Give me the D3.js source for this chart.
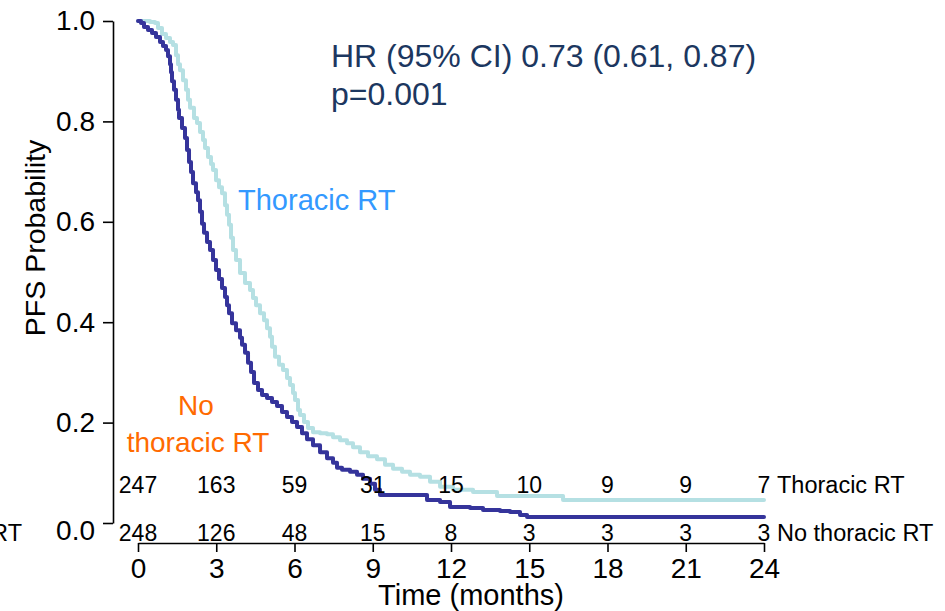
<!DOCTYPE html>
<html>
<head>
<meta charset="utf-8">
<script src="https://cdn.jsdelivr.net/npm/d3@7"></script>
<style>
  html, body { margin: 0; padding: 0; background: #fff; }
  svg { display: block; font-family: "Liberation Sans", Arial, sans-serif; }
</style>
</head>
<body>
<svg id="chart" width="945" height="611"></svg>
<script>
// ---- data ----
const months = [0, 3, 6, 9, 12, 15, 18, 21, 24];
const yTicks = [0, 0.2, 0.4, 0.6, 0.8, 1.0];
const riskThoracic = [247, 163, 59, 31, 15, 10, 9, 9, 7];
const riskNoThoracic = [248, 126, 48, 15, 8, 3, 3, 3, 3];

// No thoracic RT (dark) KM curve
const timeNo = [0, 0.115, 0.23, 0.383, 0.537, 0.69, 0.844, 0.958, 1.074, 1.15, 1.227, 1.265, 1.304, 1.38, 1.457, 1.534, 1.572, 1.687, 1.802, 1.879, 1.956, 2.032, 2.109, 2.224, 2.301, 2.377, 2.454, 2.531, 2.646, 2.761, 2.876, 2.991, 3.106, 3.221, 3.336, 3.413, 3.489, 3.604, 3.758, 3.911, 3.988, 4.103, 4.218, 4.333, 4.448, 4.601, 4.755, 4.946, 5.138, 5.33, 5.521, 5.713, 5.905, 6.097, 6.288, 6.48, 6.71, 6.979, 7.247, 7.477, 7.63, 7.822, 8.129, 8.397, 8.627, 8.896, 9.087, 9.279, 11.081, 11.58, 11.963, 12.73, 13.228, 13.88, 14.264, 14.647, 14.916, 24];
const survNo = [1.0, 0.996, 0.988, 0.982, 0.976, 0.968, 0.958, 0.95, 0.942, 0.93, 0.914, 0.898, 0.88, 0.863, 0.843, 0.823, 0.807, 0.787, 0.767, 0.743, 0.719, 0.699, 0.677, 0.659, 0.643, 0.62, 0.596, 0.578, 0.56, 0.544, 0.524, 0.504, 0.486, 0.468, 0.45, 0.434, 0.418, 0.398, 0.384, 0.369, 0.355, 0.339, 0.319, 0.301, 0.279, 0.265, 0.255, 0.249, 0.241, 0.233, 0.221, 0.211, 0.201, 0.191, 0.179, 0.167, 0.155, 0.141, 0.129, 0.12, 0.11, 0.106, 0.102, 0.096, 0.088, 0.078, 0.066, 0.056, 0.046, 0.042, 0.032, 0.03, 0.026, 0.024, 0.022, 0.016, 0.012, 0.012];

// Thoracic RT (light) KM curve
const timeRT = [0, 0.46, 0.652, 0.767, 0.92, 1.074, 1.227, 1.342, 1.457, 1.534, 1.61, 1.725, 1.84, 1.917, 1.994, 2.147, 2.262, 2.377, 2.492, 2.569, 2.684, 2.799, 2.876, 2.991, 3.106, 3.221, 3.336, 3.413, 3.489, 3.566, 3.643, 3.758, 3.911, 4.103, 4.294, 4.409, 4.525, 4.678, 4.831, 4.946, 5.061, 5.138, 5.253, 5.406, 5.56, 5.713, 5.828, 5.943, 6.02, 6.135, 6.212, 6.365, 6.518, 6.71, 6.979, 7.247, 7.477, 7.745, 8.014, 8.244, 8.512, 8.819, 9.164, 9.471, 9.778, 10.123, 10.429, 10.813, 11.196, 11.58, 12.078, 12.845, 13.765, 16.296, 24];
const survRT = [1.0, 0.998, 0.996, 0.986, 0.974, 0.966, 0.958, 0.952, 0.932, 0.914, 0.902, 0.882, 0.863, 0.843, 0.827, 0.807, 0.797, 0.779, 0.763, 0.747, 0.729, 0.715, 0.703, 0.683, 0.669, 0.657, 0.633, 0.614, 0.594, 0.568, 0.544, 0.524, 0.498, 0.478, 0.464, 0.448, 0.434, 0.418, 0.404, 0.388, 0.371, 0.351, 0.331, 0.315, 0.305, 0.289, 0.275, 0.259, 0.245, 0.225, 0.215, 0.201, 0.189, 0.181, 0.179, 0.177, 0.171, 0.165, 0.159, 0.151, 0.141, 0.133, 0.127, 0.116, 0.108, 0.102, 0.096, 0.092, 0.082, 0.072, 0.066, 0.062, 0.054, 0.046, 0.046];

const colNo = "#35349b";
const colRT = "#b5e0e3";

// ---- chart ----
const svg = d3.select("#chart");
const x = d3.scaleLinear().domain([0, 24]).range([138, 764]);
const y = d3.scaleLinear().domain([0, 1]).range([523, 21]);

// y axis
const yAxis = svg.append("g")
  .attr("transform", "translate(113,0)")
  .call(d3.axisLeft(y).tickValues(yTicks).tickFormat(d3.format(".1f"))
    .tickSize(10).tickSizeOuter(0).tickPadding(8));
yAxis.selectAll("path, line").attr("stroke", "#000").attr("stroke-width", 1.6);
yAxis.selectAll("text").attr("font-size", 28).attr("fill", "#000")
  .attr("font-family", "'Liberation Sans', Arial, sans-serif");
yAxis.selectAll(".tick").filter(d => d === 0).select("text").attr("dy", "0.6em");

// x axis
const xAxis = svg.append("g")
  .attr("transform", "translate(0,543)")
  .call(d3.axisBottom(x).tickValues(months).tickFormat(d3.format("d"))
    .tickSize(9).tickSizeOuter(0).tickPadding(6));
xAxis.selectAll("path, line").attr("stroke", "#000").attr("stroke-width", 1.6);
xAxis.selectAll("text").attr("font-size", 28).attr("fill", "#000")
  .attr("font-family", "'Liberation Sans', Arial, sans-serif");

// axis titles
svg.append("text")
  .attr("x", 471).attr("y", 605)
  .attr("text-anchor", "middle").attr("font-size", 29)
  .text("Time (months)");
svg.append("text")
  .attr("transform", "translate(45,238) rotate(-90)")
  .attr("text-anchor", "middle").attr("font-size", 28.5)
  .text("PFS Probability");

// curves
const line = d3.line().x(d => x(d[0])).y(d => y(d[1])).curve(d3.curveStepAfter);
const dataRT = timeRT.map((t, i) => [t, survRT[i]]);
const dataNo = timeNo.map((t, i) => [t, survNo[i]]);
svg.append("path").datum(dataRT).attr("d", line)
  .attr("fill", "none").attr("stroke", colRT).attr("stroke-width", 4)
  .attr("stroke-linecap", "round").attr("stroke-linejoin", "round");
svg.append("path").datum(dataNo).attr("d", line)
  .attr("fill", "none").attr("stroke", colNo).attr("stroke-width", 4)
  .attr("stroke-linecap", "round").attr("stroke-linejoin", "round");

// risk table
svg.append("g").selectAll("text").data(riskThoracic).join("text")
  .attr("x", (d, i) => x(months[i])).attr("y", 493)
  .attr("text-anchor", "middle").attr("font-size", 23).text(d => d);
svg.append("g").selectAll("text").data(riskNoThoracic).join("text")
  .attr("x", (d, i) => x(months[i])).attr("y", 541)
  .attr("text-anchor", "middle").attr("font-size", 23).text(d => d);
svg.append("text").attr("x", 777).attr("y", 493).attr("font-size", 23.5).text("Thoracic RT");
svg.append("text").attr("x", 777).attr("y", 541).attr("font-size", 23.5).text("No thoracic RT");
svg.append("text").attr("x", 22).attr("y", 541).attr("text-anchor", "end").attr("font-size", 23.5).text("No thoracic RT");

// annotations
svg.append("text").attr("x", 331).attr("y", 67).attr("font-size", 32).attr("fill", "#1c3760")
  .text("HR (95% CI) 0.73 (0.61, 0.87)");
svg.append("text").attr("x", 331).attr("y", 105).attr("font-size", 32).attr("fill", "#1c3760")
  .text("p=0.001");
svg.append("text").attr("x", 238).attr("y", 210).attr("font-size", 29).attr("fill", "#3399ff")
  .text("Thoracic RT");
svg.append("text").attr("x", 196).attr("y", 415).attr("text-anchor", "middle").attr("font-size", 28).attr("fill", "#ff6a00")
  .text("No");
svg.append("text").attr("x", 198).attr("y", 452).attr("text-anchor", "middle").attr("font-size", 28).attr("fill", "#ff6a00")
  .text("thoracic RT");
</script>
</body>
</html>
